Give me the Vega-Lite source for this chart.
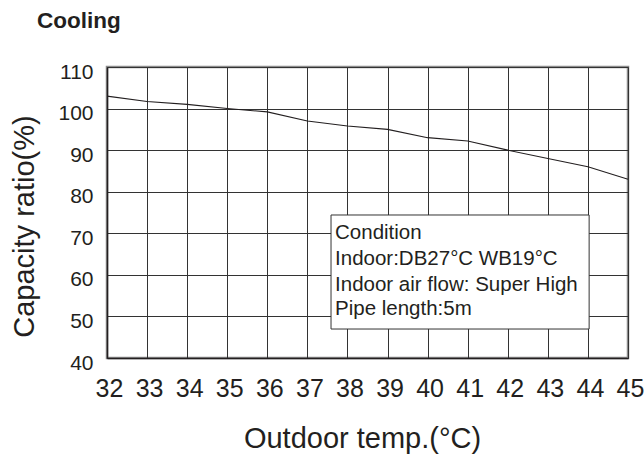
{
  "$schema": "https://vega.github.io/schema/vega-lite/v6.json",
  "autosize": "none",
  "width": 521,
  "height": 291,
  "padding": {"left": 107, "top": 67, "right": 16, "bottom": 98},
  "background": "white",
  "config": {
    "font": "Liberation Sans",
    "view": {"stroke": "#8c8c8c", "strokeWidth": 2.5}
  },
  "title": {
    "text": "Cooling",
    "anchor": "start",
    "frame": "group",
    "dx": -70,
    "offset": 11,
    "baseline": "alphabetic",
    "fontSize": 22.5,
    "fontWeight": "bold",
    "font": "Liberation Sans",
    "color": "#231f20"
  },
  "layer": [
    {
      "data": {
        "values": [
          {"temp": 32, "ratio": 103},
          {"temp": 33, "ratio": 101.7},
          {"temp": 34, "ratio": 101},
          {"temp": 35, "ratio": 100},
          {"temp": 36, "ratio": 99.2},
          {"temp": 37, "ratio": 97},
          {"temp": 38, "ratio": 95.8},
          {"temp": 39, "ratio": 95},
          {"temp": 40, "ratio": 93},
          {"temp": 41, "ratio": 92.2},
          {"temp": 42, "ratio": 90},
          {"temp": 43, "ratio": 88},
          {"temp": 44, "ratio": 86},
          {"temp": 45, "ratio": 83}
        ]
      },
      "mark": {"type": "line", "color": "#231f20", "strokeWidth": 1.1},
      "encoding": {
        "x": {
          "field": "temp",
          "type": "quantitative",
          "scale": {"domain": [32, 45], "nice": false, "zero": false},
          "axis": {
            "title": "Outdoor temp.(°C)",
            "values": [32, 33, 34, 35, 36, 37, 38, 39, 40, 41, 42, 43, 44, 45],
            "grid": true,
            "gridColor": "#333333",
            "gridWidth": 1,
            "gridOpacity": 1,
            "domainColor": "#231f20",
            "domainWidth": 1.5,
            "ticks": false,
            "tickSize": 0,
            "labelFontSize": 25,
            "labelColor": "#231f20",
            "labelPadding": 18,
            "labelOffset": 2,
            "labelFlush": false,
            "labelOverlap": false,
            "titleFontSize": 29,
            "titleFontWeight": "normal",
            "titleColor": "#231f20",
            "titleX": 255,
            "titleY": 89,
            "titleBaseline": "alphabetic",
            "titleAlign": "center"
          }
        },
        "y": {
          "field": "ratio",
          "type": "quantitative",
          "scale": {"domain": [40, 110], "nice": false, "zero": false},
          "axis": {
            "title": "Capacity ratio(%)",
            "values": [40, 50, 60, 70, 80, 90, 100, 110],
            "grid": true,
            "gridColor": "#333333",
            "gridWidth": 1,
            "gridOpacity": 1,
            "domainColor": "#231f20",
            "domainWidth": 1.5,
            "ticks": false,
            "tickSize": 0,
            "labelFontSize": 21,
            "labelColor": "#231f20",
            "labelPadding": 14,
            "labelOffset": 5,
            "labelFlush": false,
            "labelOverlap": false,
            "titleFontSize": 29,
            "titleFontWeight": "normal",
            "titleColor": "#231f20",
            "titleX": -74,
            "titleY": 159,
            "titleAngle": -90,
            "titleBaseline": "alphabetic",
            "titleAlign": "center"
          }
        }
      }
    },
    {
      "data": {"values": [{"x1": 37.59, "x2": 44.03, "y1": 74.4, "y2": 46.97}]},
      "mark": {"type": "rect", "fill": "white", "stroke": "#333333", "strokeWidth": 1},
      "encoding": {
        "x": {"field": "x1", "type": "quantitative", "title": "Outdoor temp.(°C)"},
        "x2": {"field": "x2"},
        "y": {"field": "y1", "type": "quantitative", "title": "Capacity ratio(%)"},
        "y2": {"field": "y2"}
      }
    },
    {
      "data": {
        "values": [
          {"tx": 37.69, "ty": 68.55, "label": "Condition"},
          {"tx": 37.69, "ty": 62.37, "label": "Indoor:DB27°C WB19°C"},
          {"tx": 37.69, "ty": 56.19, "label": "Indoor air flow: Super High"},
          {"tx": 37.69, "ty": 50.34, "label": "Pipe length:5m"}
        ]
      },
      "mark": {"type": "text", "align": "left", "baseline": "alphabetic", "fontSize": 20.5, "color": "#231f20"},
      "encoding": {
        "x": {"field": "tx", "type": "quantitative", "title": "Outdoor temp.(°C)"},
        "y": {"field": "ty", "type": "quantitative", "title": "Capacity ratio(%)"},
        "text": {"field": "label"}
      }
    }
  ]
}
